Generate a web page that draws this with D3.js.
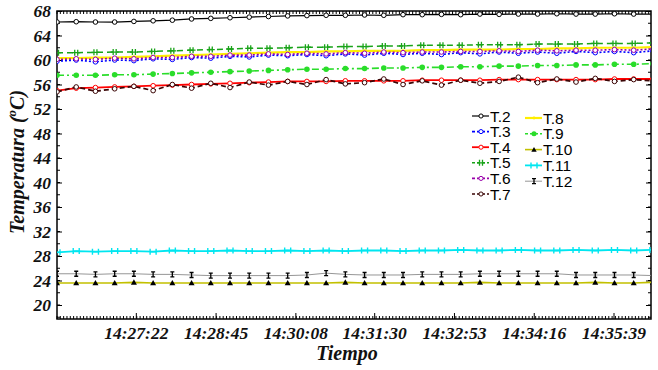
<!DOCTYPE html>
<html><head><meta charset="utf-8">
<script src="https://cdn.jsdelivr.net/npm/d3@7"></script>
<style>
html,body{margin:0;padding:0;background:#fff;}
svg{display:block;}
</style></head>
<body>
<svg id="chart" width="658" height="370"></svg>
<script>
// ---- data ----
const startTime = "14:26:00";
const endTime = "14:36:18";
const sampleStep = 20; // seconds between samples
const xTickLabels = ["14:27:22","14:28:45","14:30:08","14:31:30","14:32:53","14:34:16","14:35:39"];
const yTicks = [20,24,28,32,36,40,44,48,52,56,60,64,68];
const seriesNames = ["T.2","T.3","T.4","T.5","T.6","T.7","T.8","T.9","T.10","T.11","T.12"];

const T2  = [66.2,66.25,66.2,66.2,66.3,66.4,66.5,66.7,66.8,66.9,67.0,67.1,67.2,67.25,67.3,67.3,67.35,67.3,67.4,67.4,67.45,67.4,67.5,67.45,67.5,67.5,67.55,67.5,67.5,67.55,67.5,67.5];
const T3  = [59.8,60.0,59.7,60.0,59.9,60.2,60.1,60.4,60.3,60.6,60.5,60.8,60.7,60.9,60.7,61.0,60.8,61.1,60.9,61.1,60.9,61.2,61.0,61.3,61.1,61.3,61.1,61.4,61.2,61.4,61.2,61.5];
const T4  = [55.0,55.4,55.5,55.6,55.7,55.8,55.9,56.0,56.1,56.2,56.3,56.4,56.5,56.5,56.5,56.6,56.6,56.6,56.6,56.7,56.7,56.7,56.7,56.8,56.8,56.8,56.8,56.8,56.8,56.9,56.9,56.9];
const T5  = [61.2,61.2,61.25,61.3,61.3,61.4,61.5,61.6,61.7,61.8,61.9,61.9,62.0,62.1,62.1,62.2,62.2,62.3,62.3,62.4,62.4,62.4,62.5,62.5,62.5,62.6,62.6,62.6,62.7,62.7,62.7,62.8];
const T6  = [60.1,60.2,60.1,60.3,60.2,60.4,60.4,60.6,60.6,60.8,60.8,61.0,60.9,61.1,61.0,61.2,61.1,61.3,61.2,61.3,61.3,61.4,61.4,61.5,61.4,61.6,61.5,61.6,61.6,61.7,61.6,61.8];
const T7  = [54.8,55.6,54.9,55.3,55.7,55.0,56.0,55.4,56.2,55.5,56.4,55.9,56.5,56.0,56.8,56.1,56.3,56.9,56.0,56.6,55.9,56.7,56.2,56.5,57.2,56.3,56.9,56.4,57.0,56.5,56.8,56.6];
const T8  = [60.3,60.3,60.4,60.4,60.5,60.6,60.7,60.8,60.9,61.0,61.1,61.2,61.3,61.3,61.4,61.4,61.5,61.5,61.5,61.6,61.6,61.7,61.7,61.7,61.8,61.8,61.9,61.9,62.0,62.0,62.0,62.1];
const T9  = [57.5,57.5,57.5,57.6,57.6,57.7,57.8,57.9,58.0,58.1,58.2,58.3,58.4,58.5,58.5,58.6,58.6,58.7,58.7,58.8,58.8,58.9,58.9,59.0,59.0,59.1,59.1,59.2,59.2,59.3,59.3,59.4];
const T10 = [23.6,23.6,23.6,23.6,23.7,23.6,23.6,23.6,23.6,23.6,23.6,23.6,23.6,23.6,23.6,23.7,23.6,23.6,23.6,23.6,23.6,23.6,23.7,23.6,23.6,23.6,23.6,23.6,23.7,23.6,23.6,23.7];
const T11 = [28.6,28.8,28.7,28.8,28.8,28.7,28.9,28.8,28.8,28.9,28.8,28.8,28.9,28.8,28.9,28.8,28.9,28.9,28.8,28.9,28.9,29.0,28.9,28.9,29.0,28.9,28.9,29.0,28.9,29.0,28.9,29.0];
const T12 = [25.1,25.1,25.0,25.1,25.1,25.0,25.0,24.9,24.8,24.8,24.8,24.8,24.8,24.9,25.2,25.0,24.9,24.9,24.9,25.0,25.0,25.0,25.1,25.1,25.1,25.1,25.1,24.9,24.9,24.9,24.9,24.8];
const seriesValues = [T2,T3,T4,T5,T6,T7,T8,T9,T10,T11,T12];

// ---- styles ----
const styles = {
  "T.2": {color:"#000000", dash:null, width:1.2, marker:"circle", mfill:"#fff"},
  "T.3": {color:"#0000ff", dash:"2,2", width:1.6, marker:"circle", mfill:"#fff"},
  "T.4": {color:"#ff0000", dash:null, width:1.8, marker:"circle", mfill:"#fff"},
  "T.5": {color:"#19a319", dash:"6,4", width:1.5, marker:"bars", mfill:"none"},
  "T.6": {color:"#9900aa", dash:"2,2", width:1.6, marker:"circle", mfill:"#fff"},
  "T.7": {color:"#3a0505", dash:"5,3", width:1.7, marker:"circle", mfill:"#fff"},
  "T.8": {color:"#ffee00", dash:null, width:2.2, marker:"dot", mfill:"#ffee00"},
  "T.9": {color:"#2add2a", dash:"7,3,2,3", width:1.6, marker:"fcircle", mfill:"#2add2a"},
  "T.10":{color:"#c2c000", dash:null, width:1.6, marker:"tri", mfill:"#000"},
  "T.11":{color:"#00e6f0", dash:null, width:1.8, marker:"bowtie", mfill:"none"},
  "T.12":{color:"#8a8a8a", dash:null, width:0.9, marker:"ibar", mfill:"none"}
};

const svg = d3.select("#chart");
const L = 57, R = 651, T = 11, B = 319;
const parse = d3.utcParse("%H:%M:%S");
const t0 = parse(startTime), t1 = parse(endTime);
const x = d3.scaleUtc().domain([t0, t1]).range([L, R]);
const pxPerUnit = 6.125;
const y = d3.scaleLinear().domain([68 - (B - T) / pxPerUnit, 68]).range([B, T]);

const times = T2.map((_, i) => new Date(t0.getTime() + i * sampleStep * 1000));

svg.append("defs").append("clipPath").attr("id","clip")
  .append("rect").attr("x",L).attr("y",T).attr("width",R-L).attr("height",B-T);

// ---- axes ----
const xTickDates = xTickLabels.map(parse);
const xAxis = d3.axisBottom(x).tickValues(xTickDates).tickFormat((d,i)=>xTickLabels[i]).tickSizeInner(-6).tickSizeOuter(0).tickPadding(8);
const gx = svg.append("g").attr("transform",`translate(0,${B})`).call(xAxis);
gx.select(".domain").remove();
gx.selectAll("line").attr("stroke","#000");
gx.selectAll("text").attr("font-family","'Liberation Serif', serif").attr("font-weight","bold").attr("font-style","italic").attr("font-size","17.5px").attr("fill","#111");

const yAxis = d3.axisLeft(y).tickValues(yTicks).tickSizeInner(-5).tickSizeOuter(0).tickPadding(6);
const gy = svg.append("g").attr("transform",`translate(${L},0)`).call(yAxis);
gy.select(".domain").remove();
gy.selectAll("text").attr("font-family","'Liberation Serif', serif").attr("font-weight","bold").attr("font-style","italic").attr("font-size","17.5px").attr("fill","#111");

const gyr = svg.append("g").attr("transform",`translate(${R},0)`).call(d3.axisRight(y).tickValues(yTicks).tickSizeInner(-5).tickSizeOuter(0).tickFormat(""));
gyr.select(".domain").remove();

// minor ticks
const minorStepMs = 83000 / 24;
const minorX = d3.range(t0.getTime(), t1.getTime(), minorStepMs).map(v => new Date(v));
const minorG = svg.append("g").attr("stroke","#000").attr("stroke-width",1);
minorG.selectAll(".mxb").data(minorX).join("line").attr("x1",d=>x(d)).attr("x2",d=>x(d)).attr("y1",B).attr("y2",B-3);
minorG.selectAll(".mxt").data(minorX).join("line").attr("x1",d=>x(d)).attr("x2",d=>x(d)).attr("y1",T).attr("y2",T+3);
const minorY = d3.range(18, 68, 2);
minorG.selectAll(".myl").data(minorY).join("line").attr("x1",L).attr("x2",L+3).attr("y1",d=>y(d)).attr("y2",d=>y(d));
minorG.selectAll(".myr").data(minorY).join("line").attr("x1",R).attr("x2",R-3).attr("y1",d=>y(d)).attr("y2",d=>y(d));

// frame
svg.append("rect").attr("x",L).attr("y",T).attr("width",R-L).attr("height",B-T)
  .attr("fill","none").attr("stroke","#000").attr("stroke-width",1.5);

// ---- markers ----
function drawMarker(g, type, st, cx, cy, s) {
  s = s || 1;
  if (type === "circle") {
    g.append("circle").attr("cx",cx).attr("cy",cy).attr("r",2.3*s).attr("fill",st.mfill).attr("stroke",st.color).attr("stroke-width",1);
  } else if (type === "fcircle") {
    g.append("circle").attr("cx",cx).attr("cy",cy).attr("r",2.8*s).attr("fill",st.mfill).attr("stroke","none");
  } else if (type === "dot") {
    g.append("circle").attr("cx",cx).attr("cy",cy).attr("r",1.6*s).attr("fill",st.mfill);
  } else if (type === "tri") {
    const h = 3*s;
    g.append("path").attr("d",`M${cx},${cy-h} L${cx+h},${cy+h*0.8} L${cx-h},${cy+h*0.8} Z`).attr("fill","#000");
  } else if (type === "bars") {
    g.append("path").attr("d",`M${cx-1.5},${cy-3}V${cy+3}M${cx+1.5},${cy-3}V${cy+3}M${cx-4},${cy}H${cx+4}`).attr("stroke",st.color).attr("stroke-width",1.3).attr("fill","none");
  } else if (type === "bowtie") {
    g.append("path").attr("d",`M${cx-3},${cy-3}V${cy+3}M${cx+3},${cy-3}V${cy+3}M${cx-3},${cy}H${cx+3}`).attr("stroke",st.color).attr("stroke-width",1.4).attr("fill","none");
  } else if (type === "ibar") {
    g.append("path").attr("d",`M${cx-2},${cy-2.5}H${cx+2}M${cx},${cy-2.5}V${cy+2.5}M${cx-2},${cy+2.5}H${cx+2}`).attr("stroke","#000").attr("stroke-width",1.3).attr("fill","none");
  }
}

// ---- series ----
const plot = svg.append("g").attr("clip-path","url(#clip)");
const line = d3.line().x((d,i)=>x(times[i])).y(d=>y(d)).curve(d3.curveLinear);
const drawOrder = [10,9,8,7,3,6,1,4,2,5,0];
drawOrder.forEach(k => {
  const name = seriesNames[k], st = styles[name], vals = seriesValues[k];
  const g = plot.append("g");
  g.append("path").datum(vals).attr("d",line).attr("fill","none")
    .attr("stroke",st.color).attr("stroke-width",st.width)
    .attr("stroke-dasharray",st.dash);
  vals.forEach((v,i) => drawMarker(g, st.marker, st, x(times[i]), y(v)));
});

// ---- legend ----
const leg = svg.append("g");
const col1 = seriesNames.slice(0,6), col2 = seriesNames.slice(6);
function legendItem(name, lx, ly) {
  const st = styles[name];
  const g = leg.append("g");
  g.append("line").attr("x1",lx).attr("x2",lx+17).attr("y1",ly).attr("y2",ly)
    .attr("stroke",st.color).attr("stroke-width",st.width).attr("stroke-dasharray",st.dash ? "3,2" : null);
  drawMarker(g, st.marker, st, lx+9, ly, 0.9);
  g.append("text").attr("x",lx+18).attr("y",ly+5.5).text(name)
    .attr("font-family","'Liberation Sans', Arial, sans-serif").attr("font-size","15.5px").attr("fill","#000");
}
col1.forEach((n,i)=>legendItem(n, 472, 116 + i*15.6));
col2.forEach((n,i)=>legendItem(n, 525, 118 + i*15.8));

// ---- axis titles ----
svg.append("text").attr("x",347).attr("y",360).attr("text-anchor","middle")
  .attr("font-family","'Liberation Serif', serif").attr("font-weight","bold").attr("font-style","italic")
  .attr("font-size","20px").attr("fill","#111").text("Tiempo");

const yl = svg.append("text").attr("transform","translate(24,162) rotate(-90)").attr("text-anchor","middle")
  .attr("font-family","'Liberation Serif', serif").attr("font-weight","bold").attr("font-style","italic")
  .attr("font-size","20px").attr("fill","#111");
yl.append("tspan").text("Temperatura (");
yl.append("tspan").attr("dy","-8").attr("font-size","13px").text("o");
yl.append("tspan").attr("dy","8").text("C)");
</script>
</body></html>
